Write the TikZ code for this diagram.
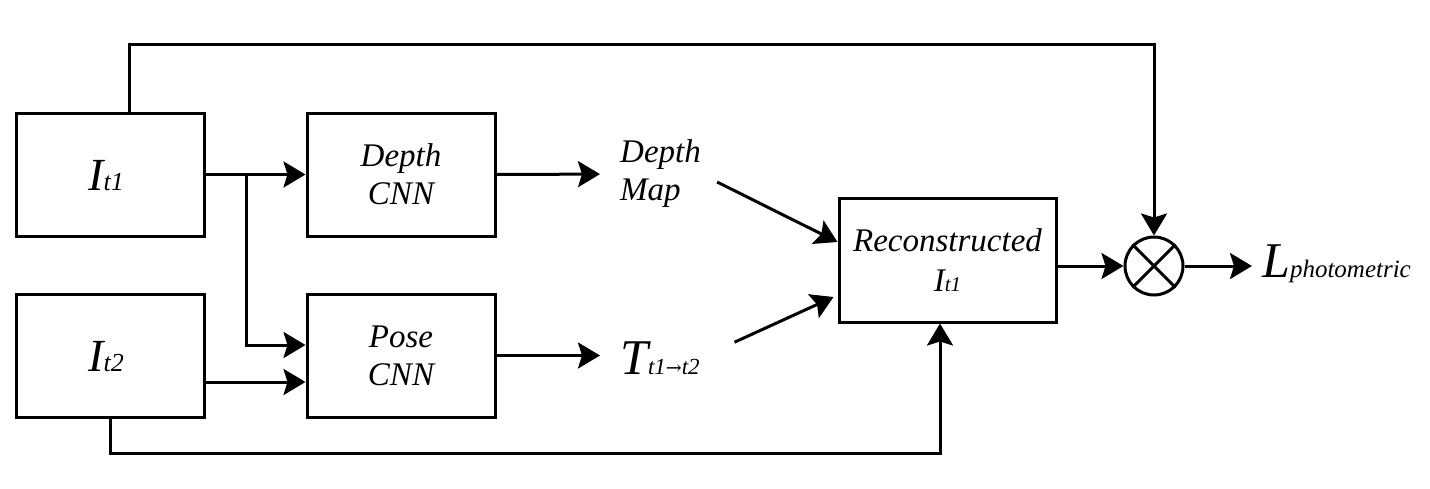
\documentclass[tikz,border=0pt]{standalone}
\usepackage{fontspec}
\setmainfont{Liberation Serif}[ItalicFont={Liberation Serif Italic}]
\newfontfamily\arrfont{DejaVu Serif}
\usetikzlibrary{arrows.meta,calc}
\newcommand{\fsz}[1]{\fontsize{#1}{#1}\selectfont}
\tikzset{
  blk/.style={draw, line width=3pt, minimum width=188pt, minimum height=123pt, inner sep=0pt},
  lbl/.style={font=\itshape\fontsize{33}{38}\selectfont, align=center, inner sep=0pt},
  arr/.style={-{Stealth[length=22pt,width=26pt,inset=4pt]}},
  ln/.style={line width=3pt},
}
\begin{document}
\begin{tikzpicture}[x=1pt,y=-1pt]
\useasboundingbox (0,0) rectangle (1430,488);
\node[blk] (it1) at (110,174.5) {};
\node[lbl] at (106,176) {\fsz{46}I\fsz{26}t1};
\node[blk] (it2) at (110,355.5) {};
\node[lbl] at (106,357) {\fsz{46}I\fsz{26}t2};
\node[blk, lbl] (dcnn) at (401,174.5) {Depth\\CNN};
\node[blk, lbl] (pcnn) at (401,355.5) {Pose\\CNN};
\node[lbl, align=left, anchor=west] (dm) at (620,174) {Depth\\Map};
\node[lbl, anchor=west] (tt) at (620,358) {\fsz{50}T\fsz{23}t1{\arrfont\upshape\fsz{19}→}t2};
\node[blk, lbl, minimum width=217pt, minimum height=124pt] (rec) at (947.5,260) {Reconstructed\\[2pt]\fsz{33}I\fsz{21}t1};
\node[circle, draw, line width=3pt, minimum size=58pt, inner sep=0pt] (x) at (1154,266) {};
\draw[ln] (x.north west) -- (x.south east) (x.north east) -- (x.south west);
\node[lbl, anchor=west] (loss) at (1262,264) {\fsz{50}L\fsz{25}photometric};
\coordinate (j) at (246,174.5);
\draw[ln, arr] (it1.east) -- (dcnn.west);
\draw[ln, arr] (j) |- (pcnn.west |- 0,345);
\draw[ln, arr] (it2.east |- 0,382) -- (pcnn.west |- 0,382);
\draw[ln, arr, shorten >=20pt] (dcnn.east) -- (dm.west);
\draw[ln, arr, shorten >=20pt] (pcnn.east) -- (tt.west |- pcnn.east);
\draw[ln, arr, shorten <=18pt] (dm.east) -- ($(rec.west)+(0,-18)$);
\draw[ln, arr, shorten <=38pt] (tt.east) -- ($(rec.west)+(-4,37)$);
\draw[ln, arr] (rec.east |- x.west) -- (x.west);
\draw[ln, arr, shorten >=10pt] (x.east) -- (loss.west |- x.east);
\draw[ln, arr] ([xshift=19pt]it1.north) -- ++(0,-67) -| (x.north);
\draw[ln, arr] (it2.south) -- ++(0,35) -| ([xshift=-7.5pt]rec.south);
\end{tikzpicture}
\end{document}
